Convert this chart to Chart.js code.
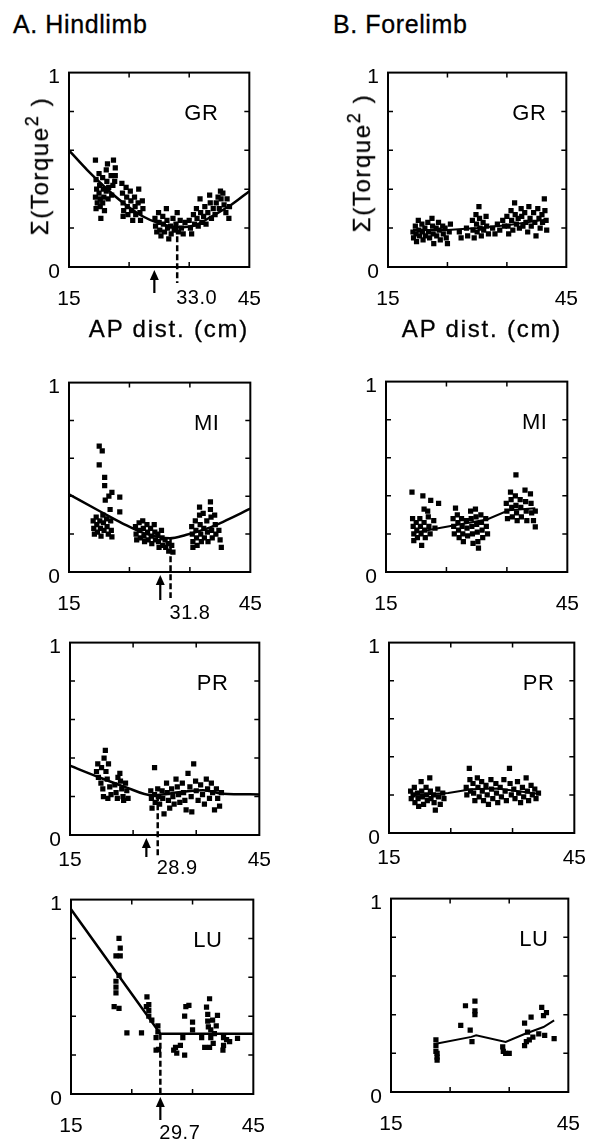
<!DOCTYPE html>
<html>
<head>
<meta charset="utf-8">
<script src="https://cdn.jsdelivr.net/npm/chart.js@4.4.0/dist/chart.umd.min.js"></script>
<style>
  body { margin: 0; background: #fff; }
  #fig { position: relative; width: 603px; height: 1144px; overflow: hidden;
         font-family: "Liberation Sans", Arial, sans-serif; color: #000; }
  #fig canvas { position: absolute; }
  .txt { position: absolute; white-space: nowrap; -webkit-text-stroke: 0.3px #000; }
  .ytitle { position: absolute; white-space: nowrap; font-size: 24px; line-height: 24px; -webkit-text-stroke: 0.3px #000;
            letter-spacing: 1.6px; transform: translate(-50%, -50%) rotate(-90deg); }
  .ytitle sup { font-size: 18px; line-height: 0; vertical-align: 10px; }
</style>
</head>
<body>
<div id="fig"></div>
<script>
const muscles = ['GR', 'MI', 'PR', 'LU'];
const xRange = [15, 45];
const yRange = [0, 1];

// hindlimb: [AP dist (cm), sum torque^2 normalised]
const hindGR = [[19.4,0.55],[19.5,0.45],[19.6,0.40],[19.4,0.36],[19.7,0.33],[19.5,0.30],[20.0,0.48],[20.1,0.42],[20.0,0.38],[20.2,0.35],
  [20.3,0.25],[20.2,0.31],[20.6,0.46],[20.7,0.40],[20.8,0.36],[20.6,0.33],[20.9,0.29],[21.2,0.50],[21.3,0.44],[21.2,0.39],
  [21.4,0.53],[21.5,0.35],[21.6,0.41],[22.0,0.47],[22.1,0.37],[22.4,0.55],[22.7,0.51],[22.7,0.47],[22.6,0.44],[22.3,0.42],
  [23.8,0.43],[23.9,0.38],[24.0,0.33],[24.1,0.29],[24.0,0.26],[24.5,0.41],[24.6,0.36],[24.7,0.31],[24.8,0.27],[25.2,0.39],
  [25.3,0.34],[25.4,0.29],[25.6,0.24],[25.9,0.36],[26.0,0.31],[26.1,0.27],[26.6,0.40],[26.5,0.33],[26.8,0.28],[26.9,0.24],
  [27.2,0.34],[27.3,0.30],
  [29.3,0.25],[29.4,0.21],[29.6,0.18],[29.9,0.28],[30.0,0.23],[30.1,0.19],[30.3,0.16],[30.6,0.26],[30.7,0.22],[30.9,0.18],
  [31.2,0.30],[31.3,0.24],[31.4,0.20],[31.6,0.145],[31.9,0.21],[32.0,0.17],[32.3,0.25],[32.5,0.19],[32.8,0.22],[33.0,0.28],
  [33.2,0.18],[33.5,0.24],[33.7,0.20],[34.0,0.17],[34.3,0.23],
  [35.0,0.24],[35.2,0.20],[35.4,0.17],[35.7,0.27],[35.9,0.22],[36.2,0.30],[36.3,0.25],[36.5,0.21],[36.8,0.35],[36.9,0.28],
  [37.1,0.23],[37.4,0.26],[37.6,0.31],[37.8,0.22],[38.1,0.28],[38.4,0.37],[38.5,0.33],[38.7,0.25],[39.0,0.30],[39.3,0.27],
  [39.5,0.33],[39.8,0.36],[40.0,0.30],[40.2,0.39],[40.3,0.35],[40.6,0.38],[40.8,0.32],[41.1,0.28],[41.3,0.35],[41.6,0.25],[41.7,0.31]];
const hindMI = [[20.0,0.665],[20.5,0.64],[20.0,0.566],[20.9,0.50],[20.9,0.456],[21.0,0.38],[22.1,0.42],[21.6,0.40],[23.4,0.395],[23.4,0.317],
  [19.0,0.27],[19.1,0.23],[19.2,0.20],[19.5,0.29],[19.6,0.25],[19.7,0.21],[20.1,0.27],[20.2,0.23],[20.3,0.19],[20.6,0.30],
  [20.7,0.26],[20.8,0.22],[21.2,0.28],[21.3,0.24],[21.5,0.20],[21.8,0.33],[21.9,0.27],[22.0,0.22],[22.1,0.185],
  [26.0,0.24],[26.1,0.20],[26.2,0.17],[26.6,0.26],[26.7,0.22],[26.8,0.18],[27.2,0.27],[27.3,0.23],[27.4,0.19],[27.5,0.16],
  [27.9,0.25],[28.0,0.21],[28.1,0.17],[28.5,0.23],[28.6,0.19],[28.7,0.15],[29.1,0.25],[29.2,0.21],[29.3,0.17],[29.7,0.20],
  [29.8,0.16],[29.9,0.13],[30.3,0.22],[30.4,0.18],[30.5,0.14],[30.9,0.17],[31.0,0.13],[31.4,0.15],[31.5,0.11],[32.0,0.14],[32.2,0.105],
  [35.3,0.24],[35.4,0.20],[35.5,0.16],[35.5,0.13],[35.9,0.27],[36.0,0.22],[36.1,0.18],[36.2,0.14],[36.6,0.343],[36.6,0.30],
  [36.7,0.25],[36.8,0.20],[36.9,0.16],[37.2,0.31],[37.3,0.23],[37.4,0.18],[37.8,0.27],[37.9,0.21],[38.0,0.16],[38.4,0.37],
  [38.4,0.33],[38.5,0.29],[38.6,0.22],[38.7,0.18],[39.1,0.30],[39.2,0.25],[39.3,0.20],[39.8,0.22],[40.0,0.17],[40.2,0.13]];
const hindPR = [[20.6,0.44],[20.4,0.40],[19.4,0.37],[20.0,0.35],[19.2,0.33],[19.5,0.30],[19.9,0.27],[20.2,0.24],[20.3,0.20],[20.7,0.33],
  [20.9,0.29],[21.1,0.37],[21.3,0.25],[21.5,0.21],[21.0,0.19],[22.1,0.26],[22.3,0.22],[22.5,0.19],[22.9,0.32],[23.0,0.28],
  [23.2,0.24],[23.4,0.20],[23.5,0.18],[23.8,0.27],[24.0,0.23],[24.2,0.19],[22.6,0.30],
  [28.4,0.35],[27.8,0.23],[27.9,0.19],[28.0,0.14],[28.4,0.21],[28.5,0.17],[28.9,0.24],[29.0,0.20],[29.2,0.16],[29.6,0.23],
  [29.7,0.19],[29.9,0.11],[30.3,0.27],[30.4,0.22],[30.6,0.18],[30.8,0.14],[31.1,0.24],[31.3,0.20],[31.5,0.16],[31.8,0.29],
  [32.0,0.25],[32.2,0.21],[32.4,0.17],[32.8,0.27],[33.0,0.22],[33.2,0.18],[33.4,0.13],[33.7,0.32],[34.0,0.25],[34.2,0.20],
  [34.3,0.12],[34.6,0.37],[34.9,0.28],[35.0,0.23],[35.3,0.18],[35.7,0.26],[36.0,0.21],[36.3,0.16],[36.6,0.29],[36.8,0.24],
  [37.1,0.19],[37.4,0.27],[37.6,0.22],[37.9,0.13],[38.2,0.24],[38.4,0.19],[38.7,0.15],[39.0,0.22]];
const hindLU = [[22.9,0.80],[23.1,0.75],[23.1,0.71],[22.4,0.71],[22.9,0.61],[22.4,0.58],[22.4,0.55],[22.4,0.52],[22.1,0.45],[22.9,0.44],
  [24.2,0.315],[26.6,0.315],[27.5,0.50],[27.8,0.46],[27.8,0.43],[27.4,0.45],[27.8,0.40],[28.3,0.38],[29.3,0.35],[29.3,0.32],
  [29.0,0.29],[29.0,0.226],[29.4,0.23],
  [31.9,0.226],[32.4,0.21],[33.7,0.20],[33.0,0.25],[33.4,0.29],[33.9,0.45],[34.4,0.456],[33.7,0.40],[35.0,0.37],[35.0,0.33],[32.2,0.24],
  [37.8,0.49],[37.3,0.447],[37.5,0.41],[37.5,0.375],[37.6,0.345],[38.0,0.33],[38.0,0.29],[37.0,0.24],[37.8,0.24],[38.4,0.26],
  [39.1,0.405],[38.9,0.35],[38.6,0.31],[40.1,0.29],[40.1,0.25],[40.0,0.226],[41.1,0.27],[42.4,0.286],[36.5,0.29],[38.3,0.38],[40.6,0.28]];

// forelimb
const foreGR = [[19.2,0.18],[19.3,0.15],[19.6,0.21],[19.7,0.17],[19.8,0.13],[20.1,0.24],[20.2,0.19],[20.3,0.16],[20.7,0.22],[20.8,0.18],
  [20.9,0.14],[21.2,0.20],[21.3,0.16],[21.7,0.23],[21.8,0.18],[22.0,0.15],[22.4,0.25],[22.5,0.21],[22.6,0.17],[22.7,0.12],
  [23.1,0.20],[23.2,0.16],[23.5,0.23],[23.6,0.19],[23.8,0.14],[24.2,0.21],[24.3,0.17],[24.6,0.20],[24.8,0.15],[25.0,0.12],
  [25.3,0.18],[25.5,0.22],[27.0,0.18],[27.3,0.15],[28.2,0.20],[28.4,0.16],
  [29.2,0.24],[29.3,0.19],[29.5,0.15],[29.8,0.27],[29.9,0.22],[30.0,0.18],[30.3,0.31],[30.4,0.25],[30.5,0.20],[30.7,0.16],
  [31.0,0.23],[31.1,0.19],[31.5,0.26],[31.6,0.21],[31.9,0.17],
  [32.6,0.20],[33.0,0.17],[33.4,0.22],[33.8,0.19],[34.3,0.24],[34.6,0.21],
  [35.0,0.26],[35.2,0.21],[35.3,0.17],[35.7,0.29],[35.8,0.24],[36.0,0.19],[36.3,0.33],[36.4,0.27],[36.6,0.22],[36.9,0.25],
  [37.1,0.20],[37.4,0.30],[37.5,0.26],[37.7,0.21],[38.0,0.28],[38.2,0.23],[38.5,0.18],[38.7,0.31],[38.9,0.25],[39.1,0.21],
  [39.5,0.28],[39.7,0.23],[39.9,0.16],[40.2,0.30],[40.4,0.25],[40.6,0.20],[40.9,0.27],[41.0,0.23],[41.3,0.35],[41.4,0.29],
  [41.6,0.24],[41.7,0.19]];
const foreMI = [[19.3,0.42],[21.1,0.40],[22.4,0.376],[23.7,0.36],[21.3,0.33],[19.4,0.28],[19.5,0.24],[19.6,0.20],[19.6,0.165],[20.0,0.26],
  [20.1,0.22],[20.2,0.18],[20.6,0.28],[20.7,0.24],[20.8,0.20],[20.9,0.14],[21.3,0.26],[21.4,0.22],[21.5,0.18],[22.0,0.29],
  [22.1,0.24],[22.3,0.20],[22.9,0.27],[23.1,0.23],[21.9,0.32],
  [26.5,0.336],[26.1,0.28],[26.2,0.24],[26.3,0.20],[26.8,0.30],[26.9,0.26],[27.0,0.22],[27.1,0.18],[27.5,0.28],[27.6,0.24],
  [27.7,0.20],[27.8,0.16],[28.3,0.27],[28.4,0.23],[28.5,0.19],[29.0,0.32],[29.1,0.28],[29.2,0.24],[29.3,0.20],[29.4,0.15],
  [29.8,0.33],[29.9,0.29],[30.0,0.25],[30.1,0.21],[30.2,0.16],[30.3,0.125],[30.7,0.30],[30.8,0.26],[30.9,0.22],[31.0,0.18],
  [31.5,0.28],[31.6,0.24],[31.8,0.20],
  [36.5,0.51],[34.9,0.36],[35.0,0.32],[35.1,0.28],[35.6,0.42],[35.7,0.38],[35.8,0.34],[35.9,0.29],[36.4,0.40],[36.5,0.35],
  [36.6,0.31],[36.7,0.27],[37.2,0.38],[37.3,0.34],[37.4,0.29],[38.0,0.43],[38.1,0.37],[38.2,0.32],[38.3,0.27],[38.9,0.41],
  [39.0,0.36],[39.1,0.31],[39.4,0.27],[39.7,0.32],[39.7,0.237]];
const forePR = [[18.5,0.22],[18.6,0.18],[18.9,0.20],[19.1,0.24],[19.2,0.16],[19.6,0.21],[19.7,0.18],[19.8,0.14],[20.2,0.27],[20.3,0.22],
  [20.4,0.19],[20.6,0.15],[21.0,0.24],[21.1,0.20],[21.2,0.17],[21.6,0.29],[21.7,0.22],[21.8,0.18],[22.2,0.20],[22.3,0.16],
  [22.5,0.12],[22.9,0.23],[23.0,0.19],[23.3,0.15],[23.7,0.21],[23.9,0.18],
  [27.5,0.24],[27.6,0.20],[28.0,0.34],[28.1,0.28],[28.2,0.22],[28.6,0.26],[28.7,0.21],[28.9,0.17],[29.3,0.29],[29.4,0.24],
  [29.6,0.19],[30.0,0.27],[30.1,0.22],[30.3,0.17],[30.7,0.25],[30.9,0.20],[31.1,0.15],[31.5,0.28],[31.6,0.23],[31.8,0.18],
  [32.3,0.26],[32.4,0.21],[32.6,0.16],[33.0,0.24],[33.2,0.19],[33.6,0.28],[33.8,0.22],[34.0,0.17],[34.5,0.34],[34.6,0.26],
  [34.8,0.20],[35.2,0.23],[35.4,0.18],[35.8,0.27],[36.0,0.21],[36.3,0.16],[36.6,0.24],[36.8,0.19],[37.2,0.29],[37.4,0.22],
  [37.6,0.17],[38.0,0.25],[38.2,0.20],[38.6,0.23],[38.8,0.18],[39.2,0.21]];
const foreLU = [[22.6,0.27],[22.6,0.24],[22.6,0.21],[22.8,0.20],[22.8,0.18],[22.8,0.165],[27.6,0.446],[29.2,0.47],[29.2,0.42],[29.2,0.40],
  [26.8,0.344],[28.4,0.32],[28.7,0.26],[33.9,0.233],[34.4,0.20],[35.0,0.20],[34.0,0.21],[37.6,0.356],[37.6,0.24],[38.1,0.31],
  [38.7,0.387],[39.0,0.284],[40.0,0.30],[40.5,0.438],[40.8,0.395],[41.3,0.41],[41.0,0.293],[42.6,0.276],[38.4,0.27],[37.9,0.26]];

// fitted curves
const fitHindGR = [[15,0.60],[18,0.50],[21,0.41],[24,0.33],[27,0.265],[30,0.225],[33,0.205],[36,0.215],[39,0.265],[42,0.32],[45,0.39]];
const fitHindMI = [[15,0.41],[19.8,0.326],[23.9,0.256],[27.5,0.204],[31.7,0.178],[34.3,0.195],[37.9,0.23],[40.5,0.265],[45,0.334]];
const fitHindPR = [[15,0.36],[19.6,0.30],[23.7,0.25],[28.1,0.206],[32.5,0.223],[36.1,0.232],[39.2,0.215],[45,0.211]];
const fitHindLU = [[15,0.95],[29.7,0.31],[45,0.31]];
const fitForeGR = [[19.2,0.19],[25,0.19],[30,0.20],[35,0.215],[41.8,0.245]];
const fitForeMI = [[19.5,0.205],[23.4,0.229],[31.7,0.276],[35.3,0.324],[39.7,0.335]];
const fitForePR = [[19,0.20],[24.6,0.21],[28.3,0.23],[32.5,0.234],[38.8,0.208]];
const fitForeLU = [[22.6,0.25],[28.6,0.285],[29.4,0.293],[34.4,0.259],[37.6,0.30],[40.8,0.336],[42.6,0.37]];

// hindlimb optimum (dashed) and arrow position
const hindMinX = [33.0, 31.8, 28.9, 29.7];
const hindMinY = [0.205, 0.178, 0.206, 0.31];
const hindArrowX = [29.2, 30.1, 27.1, 29.7];

const hindSets = [hindGR, hindMI, hindPR, hindLU];
const foreSets = [foreGR, foreMI, forePR, foreLU];
const hindFits = [fitHindGR, fitHindMI, fitHindPR, fitHindLU];
const foreFits = [fitForeGR, fitForeMI, fitForePR, fitForeLU];

// layout (plot area in page pixels)
const hindBoxes = [{L:69,T:71,R:261,B:267},{L:69,T:381,R:262,B:572},{L:70,T:641,R:264,B:835},{L:71,T:898,R:265,B:1094}];
const foreBoxes = [{L:388,T:71,R:578,B:267},{L:386,T:380,R:579,B:572},{L:389,T:641,R:579,B:833},{L:391,T:897,R:580,B:1092}];
const rowTickPad = [20, 20, 13, 20];
const dashExt = [16, 26, 22, 0];
const arrowEnd = [26, 28, 22, 26];
const valueDy = [21, 31, 23, 29];
const hindSmooth = [true, true, true, false];

const FONT = '"Liberation Sans", Arial, sans-serif';
const fig = document.getElementById('fig');

const framePlugin = {
  id: 'frame',
  afterDraw(chart, args, opts) {
    const { ctx, chartArea: a } = chart;
    const xs = chart.scales.x, ys = chart.scales.y;
    ctx.save();
    ctx.strokeStyle = '#000';
    ctx.fillStyle = '#000';
    ctx.lineWidth = 2;
    ctx.strokeRect(a.left, a.top, a.right - a.left, a.bottom - a.top);
    ctx.lineWidth = 1.5;
    ctx.beginPath();
    xs.ticks.forEach(t => {
      if (t.value <= xs.min || t.value >= xs.max) return;
      const p = xs.getPixelForValue(t.value);
      ctx.moveTo(p, a.bottom); ctx.lineTo(p, a.bottom - 5);
      ctx.moveTo(p, a.top); ctx.lineTo(p, a.top + 5);
    });
    ys.ticks.forEach(t => {
      if (t.value <= ys.min + 1e-9 || t.value >= ys.max - 1e-9) return;
      const p = ys.getPixelForValue(t.value);
      ctx.moveTo(a.left, p); ctx.lineTo(a.left + 5, p);
      ctx.moveTo(a.right, p); ctx.lineTo(a.right - 5, p);
    });
    ctx.stroke();

    ctx.font = '22px ' + FONT;
    ctx.letterSpacing = '0.5px';
    ctx.textAlign = 'right';
    ctx.textBaseline = 'alphabetic';
    ctx.fillText(opts.label, a.right - opts.labelInset, a.top + 47);

    if (opts.minX != null) {
      const px = xs.getPixelForValue(opts.minX);
      const py = ys.getPixelForValue(opts.minY);
      ctx.lineWidth = 2.5;
      ctx.setLineDash([6, 3]);
      ctx.beginPath();
      ctx.moveTo(px, py); ctx.lineTo(px, a.bottom + opts.dashExt);
      ctx.stroke();
      ctx.setLineDash([]);

      const ax = xs.getPixelForValue(opts.arrowX);
      const y0 = a.bottom + 3;
      ctx.lineWidth = 2.2;
      ctx.beginPath();
      ctx.moveTo(ax, y0 + 6); ctx.lineTo(ax, a.bottom + opts.arrowEnd);
      ctx.stroke();
      ctx.beginPath();
      ctx.moveTo(ax, y0); ctx.lineTo(ax - 4.5, y0 + 10); ctx.lineTo(ax + 4.5, y0 + 10);
      ctx.closePath(); ctx.fill();

      ctx.font = '20px ' + FONT;
      ctx.letterSpacing = '0.5px';
      ctx.textAlign = 'left';
      ctx.textBaseline = 'top';
      ctx.fillText(opts.minX.toFixed(1), px - 1, a.bottom + opts.valueDy);
    }
    ctx.restore();
  }
};

function makePanel(box, pts, fit, frameOpts, tickPad, fitWidth, smooth) {
  const cv = document.createElement('canvas');
  const w = box.R - box.L + 80, h = box.B - box.T + 80;
  cv.width = w; cv.height = h;
  cv.style.left = (box.L - 60) + 'px';
  cv.style.top = (box.T - 20) + 'px';
  fig.appendChild(cv);
  const fitSet = { data: fit.map(p => ({ x: p[0], y: p[1] })), showLine: true, borderColor: '#000',
                   borderWidth: fitWidth, pointRadius: 0, tension: 0 };
  if (smooth) fitSet.cubicInterpolationMode = 'monotone';
  new Chart(cv, {
    type: 'scatter',
    data: {
      datasets: [
        fitSet,
        { data: pts.map(p => ({ x: p[0], y: p[1] })), pointStyle: 'rect', pointRadius: 3.7,
          backgroundColor: '#000', borderWidth: 0 }
      ]
    },
    options: {
      responsive: false, animation: false, devicePixelRatio: 1,
      layout: { padding: { left: 0, top: 20, right: 20, bottom: 0 } },
      plugins: { legend: { display: false }, tooltip: { enabled: false }, frame: frameOpts },
      scales: {
        x: {
          type: 'linear', min: xRange[0], max: xRange[1],
          grid: { display: false, drawTicks: false }, border: { display: false },
          ticks: { stepSize: 10, autoSkip: false, maxRotation: 0, padding: tickPad, color: '#000',
                   font: { family: FONT, size: 21 },
                   callback: v => (v === xRange[0] || v === xRange[1]) ? String(v) : '' },
          afterFit: s => { s.height = 60; }
        },
        y: {
          min: yRange[0], max: yRange[1],
          grid: { display: false, drawTicks: false }, border: { display: false },
          ticks: { stepSize: 0.2, autoSkip: false, padding: 9, labelOffset: 5, color: '#000',
                   font: { family: FONT, size: 21 },
                   callback: v => (Math.abs(v - yRange[0]) < 1e-9 || Math.abs(v - yRange[1]) < 1e-9) ? String(Math.round(v)) : '' },
          afterFit: s => { s.width = 60; }
        }
      }
    },
    plugins: [framePlugin]
  });
}

muscles.forEach((m, r) => {
  makePanel(hindBoxes[r], hindSets[r], hindFits[r], {
    label: m, labelInset: 31, minX: hindMinX[r], minY: hindMinY[r], arrowX: hindArrowX[r],
    dashExt: dashExt[r], arrowEnd: arrowEnd[r], valueDy: valueDy[r]
  }, rowTickPad[r], 2.5, hindSmooth[r]);
  makePanel(foreBoxes[r], foreSets[r], foreFits[r], { label: m, labelInset: 20 }, rowTickPad[r], 2, false);
});

function addText(html, css, cls) {
  const d = document.createElement('div');
  d.className = cls || 'txt';
  d.innerHTML = html;
  Object.assign(d.style, css);
  fig.appendChild(d);
}
addText('A. Hindlimb', { left: '13px', top: '12px', fontSize: '25px', lineHeight: '25px', letterSpacing: '0.6px' });
addText('B. Forelimb', { left: '333px', top: '12px', fontSize: '25px', lineHeight: '25px', letterSpacing: '0.6px' });
addText('AP dist. (cm)', { left: '169px', top: '317px', fontSize: '24px', lineHeight: '24px', letterSpacing: '1.8px', transform: 'translateX(-50%)' });
addText('AP dist. (cm)', { left: '482px', top: '317px', fontSize: '24px', lineHeight: '24px', letterSpacing: '1.8px', transform: 'translateX(-50%)' });
addText('&Sigma;(Torque<sup>2</sup> )', { left: '40px', top: '166px' }, 'ytitle');
addText('&Sigma;(Torque<sup>2</sup> )', { left: '362px', top: '163px' }, 'ytitle');
</script>
</body>
</html>
